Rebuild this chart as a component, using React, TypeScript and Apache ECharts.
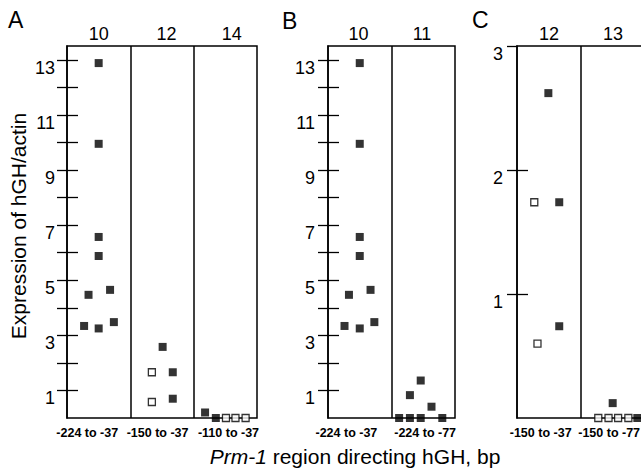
import React, { useEffect, useRef } from "react";
import * as echarts from "echarts";

// ---------- DATA ----------
// Panel A
const aTopLabels = ["10", "12", "14"];
const aBottomLabels = ["-224 to -37", "-150 to -37", "-110 to -37"];
const aFilled: [number, number][] = [
  [0.5, 12.88], [0.5, 9.95], [0.5, 6.57], [0.5, 5.88], [0.34, 4.47], [0.68, 4.65],
  [0.27, 3.34], [0.5, 3.25], [0.74, 3.48],
  [1.51, 2.58], [1.67, 1.66], [1.67, 0.7],
  [2.18, 0.2], [2.35, 0],
];
const aOpen: [number, number][] = [
  [1.34, 1.66], [1.34, 0.58],
  [2.51, 0], [2.66, 0], [2.82, 0],
];

// Panel B
const bTopLabels = ["10", "11"];
const bBottomLabels = ["-224 to -37", "-224 to -77"];
const bFilled: [number, number][] = [
  [0.5, 12.88], [0.5, 9.95], [0.5, 6.57], [0.5, 5.88], [0.33, 4.47], [0.67, 4.65],
  [0.26, 3.34], [0.5, 3.25], [0.73, 3.48],
  [1.46, 1.36], [1.29, 0.83], [1.63, 0.41],
  [1.12, 0], [1.29, 0], [1.46, 0], [1.8, 0],
];
const bOpen: [number, number][] = [];

// Panel C
const cTopLabels = ["12", "13"];
const cBottomLabels = ["-150 to -37", "-150 to -77"];
const cFilled: [number, number][] = [
  [0.49, 2.62], [0.66, 1.74], [0.66, 0.74],
  [1.495, 0.12], [1.88, 0],
];
const cOpen: [number, number][] = [
  [0.27, 1.74], [0.32, 0.6],
  [1.27, 0], [1.43, 0], [1.58, 0], [1.74, 0],
];

const bigYLabels = [1, 3, 5, 7, 9, 11, 13];
const bigYTicks = [1, 2, 3, 4, 5, 6, 7, 8, 9, 10, 11, 12, 13];
const smallYLabels = [1, 2, 3];
const smallYTicksOut = [1, 2, 3];
const smallYTicksIn = [1, 2];

const yTitle = "Expression of hGH/actin";
const xTitleItalic = "Prm-1";
const xTitleRest = " region directing hGH, bp";

// ---------- LAYOUT ----------
const FONT = "Liberation Sans, Arial, Helvetica, sans-serif";
const TOP = 46;
const HEIGHT = 372;

type Panel = {
  left: number;
  width: number;
  nCols: number;
  yMax: number;
  yLabels: number[];
  yTicksOut: number[];
  yTicksIn: number[];
  labelMargin: number;
  topPos: number[];
  topLabels: string[];
  botPos: number[];
  botLabels: string[];
  filled: [number, number][];
  open: [number, number][];
};

const panels: Panel[] = [
  {
    left: 67, width: 190, nCols: 3, yMax: 13.5,
    yLabels: bigYLabels, yTicksOut: bigYTicks, yTicksIn: bigYTicks, labelMargin: 12,
    topPos: [0.5, 1.57, 2.6], topLabels: aTopLabels,
    botPos: [0.32, 1.43, 2.55], botLabels: aBottomLabels,
    filled: aFilled, open: aOpen,
  },
  {
    left: 328, width: 127, nCols: 2, yMax: 13.5,
    yLabels: bigYLabels, yTicksOut: bigYTicks, yTicksIn: bigYTicks, labelMargin: 13,
    topPos: [0.48, 1.48], topLabels: bTopLabels,
    botPos: [0.29, 1.53], botLabels: bBottomLabels,
    filled: bFilled, open: bOpen,
  },
  {
    left: 517, width: 128, nCols: 2, yMax: 3,
    yLabels: smallYLabels, yTicksOut: smallYTicksOut, yTicksIn: smallYTicksIn, labelMargin: 14,
    topPos: [0.5, 1.5], topLabels: cTopLabels,
    botPos: [0.37, 1.44], botLabels: cBottomLabels,
    filled: cFilled, open: cOpen,
  },
];

function lookup(pos: number[], labels: string[]) {
  return (v: number) => {
    const i = pos.findIndex((p) => Math.abs(p - v) < 1e-6);
    return i >= 0 ? labels[i] : "";
  };
}

function buildOption() {
  const grid: any[] = [];
  const xAxis: any[] = [];
  const yAxis: any[] = [];
  const series: any[] = [];

  panels.forEach((p, g) => {
    grid.push({
      left: p.left,
      top: TOP,
      width: p.width,
      height: HEIGHT,
      show: true,
      borderColor: "#000",
      borderWidth: 1.5,
      backgroundColor: "transparent",
      outerBoundsMode: "none",
      containLabel: false,
    });
    xAxis.push({
      type: "value",
      gridIndex: g,
      position: "bottom",
      min: 0,
      max: p.nCols,
      axisLine: { show: false },
      axisTick: { show: false },
      splitLine: { show: false },
      axisLabel: {
        customValues: p.botPos,
        formatter: lookup(p.botPos, p.botLabels),
        margin: 8,
        fontFamily: FONT,
        fontSize: 12.5,
        fontWeight: "bold",
        color: "#000",
      },
    });
    xAxis.push({
      type: "value",
      gridIndex: g,
      position: "top",
      min: 0,
      max: p.nCols,
      axisLine: { show: false },
      axisTick: { show: false },
      splitLine: { show: false },
      axisLabel: {
        customValues: p.topPos,
        formatter: lookup(p.topPos, p.topLabels),
        margin: 3,
        fontFamily: FONT,
        fontSize: 18,
        color: "#000",
      },
    });
    yAxis.push({
      type: "value",
      gridIndex: g,
      position: "left",
      min: 0,
      max: p.yMax,
      axisLine: { show: true, lineStyle: { color: "#000", width: 1.5 } },
      axisTick: {
        show: true,
        inside: false,
        length: 10,
        customValues: p.yTicksOut,
        lineStyle: { color: "#000", width: 1.3 },
      },
      splitLine: { show: false },
      axisLabel: {
        customValues: p.yLabels,
        margin: p.labelMargin,
        fontFamily: FONT,
        fontSize: 18,
        color: "#000",
        verticalAlign: "top",
        lineHeight: 16,
      },
    });
    yAxis.push({
      type: "value",
      gridIndex: g,
      position: "left",
      offset: 0,
      min: 0,
      max: p.yMax,
      axisLine: { show: false },
      axisTick: {
        show: true,
        inside: true,
        length: 11,
        customValues: p.yTicksIn,
        lineStyle: { color: "#000", width: 1.3 },
      },
      splitLine: { show: false },
      axisLabel: { show: false },
    });

    const dividers = [];
    for (let i = 1; i < p.nCols; i++) dividers.push({ xAxis: i });

    series.push({
      type: "scatter",
      xAxisIndex: 2 * g,
      yAxisIndex: 2 * g,
      data: p.filled,
      symbol: "rect",
      symbolSize: 8,
      clip: false,
      itemStyle: { color: "#000" },
      z: 5,
      markLine: {
        silent: true,
        symbol: ["none", "none"],
        label: { show: false },
        lineStyle: { color: "#000", type: "solid", width: 1.5 },
        data: dividers,
        z: 1,
      },
    });
    if (p.open.length) {
      series.push({
        type: "scatter",
        xAxisIndex: 2 * g,
        yAxisIndex: 2 * g,
        data: p.open,
        symbol: "rect",
        symbolSize: 7,
        clip: false,
        itemStyle: { color: "#fff", borderColor: "#000", borderWidth: 1.3 },
        z: 5,
      });
    }
  });

  const graphic: any[] = [
    { type: "text", left: 8, top: 8, style: { text: "A", fontFamily: FONT, fontSize: 23, fill: "#000" } },
    { type: "text", left: 282, top: 9, style: { text: "B", fontFamily: FONT, fontSize: 23, fill: "#000" } },
    { type: "text", left: 472, top: 8, style: { text: "C", fontFamily: FONT, fontSize: 23, fill: "#000" } },
    {
      type: "text",
      x: 18,
      y: 226,
      rotation: Math.PI / 2,
      style: {
        text: yTitle,
        fontFamily: FONT,
        fontSize: 21,
        fill: "#000",
        align: "center",
        verticalAlign: "middle",
      },
    },
    {
      type: "text",
      x: 355,
      y: 456,
      style: {
        text: `{i|${xTitleItalic}}${xTitleRest}`,
        fontFamily: FONT,
        fontSize: 21,
        fill: "#000",
        align: "center",
        verticalAlign: "middle",
        rich: {
          i: { fontStyle: "italic", fontFamily: FONT, fontSize: 21, fill: "#000" },
        },
      },
    },
  ];

  return {
    animation: false,
    backgroundColor: "#fff",
    grid,
    xAxis,
    yAxis,
    series,
    graphic,
  };
}

export default function App() {
  const ref = useRef<HTMLDivElement>(null);
  useEffect(() => {
    if (!ref.current) return;
    const chart = echarts.init(ref.current, undefined, { renderer: "svg" });
    chart.setOption(buildOption() as any);
    return () => chart.dispose();
  }, []);
  return (
    <div
      ref={ref}
      style={{ position: "fixed", left: 0, top: 0, width: 641, height: 469, background: "#fff" }}
    />
  );
}
